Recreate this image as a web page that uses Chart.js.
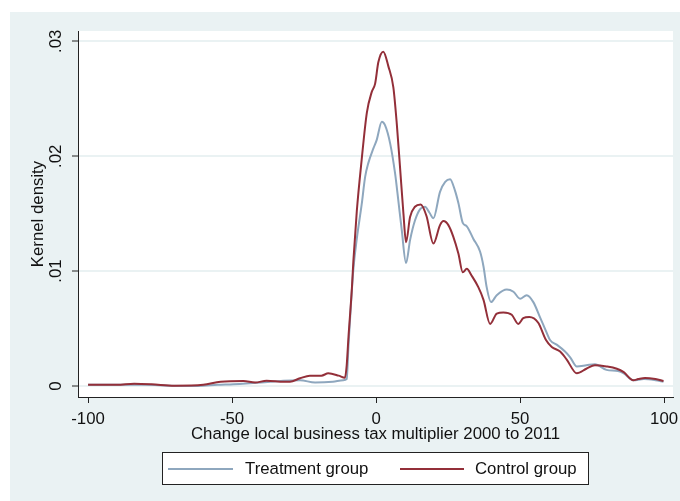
<!DOCTYPE html>
<html>

<head>
    <title>Kernel density: treatment vs control</title>
    <script src="https://cdn.jsdelivr.net/npm/chart.js@4.4.2/dist/chart.umd.min.js"></script>
    <style>
        html, body {
            margin: 0;
            background: #ffffff;
        }
        #chart-container {
            width: 680px;
            height: 501px;
        }
    </style>
</head>

<body>
    <div id="chart-container">
        <canvas id="densityChart" width="680" height="501"></canvas>
    </div>
    <script>
        // Values
        const treatmentX = [-100, -90, -80, -72, -62, -55, -49.5, -40, -32.2, -26.4, -21.2, -15, -11.4, -10.2, -9.6, -7.9,
            -6.7, -5, -3.8, -2.7, -0.9, 0.2, 2, 3.1, 4.9, 6.6, 7.7, 8.9, 10.4, 11.8, 13.5, 15.3, 17, 18.5, 19.9,
            22.2, 24, 25.7, 27.4, 28.6, 30.1, 31.5, 33.8, 36.1, 37.3, 38.4, 39.9, 41.9, 45.4, 47.7, 50, 52.3, 54.6,
            56.9, 59.3, 60.4, 62.7, 65.6, 67.4, 69.7, 73, 76, 80, 84, 86, 89.3, 93, 97, 99.8];
        const treatmentY = [0.0001, 0.0001, 0.0001, 0.00003, 0, 0.0001, 0.00015, 0.0003, 0.00046, 0.0005, 0.0003, 0.00037,
            0.0005, 0.0006, 0.0034, 0.0101, 0.0128, 0.0158, 0.0182, 0.0194, 0.0207, 0.0214, 0.023, 0.0227, 0.0211,
            0.0185, 0.0162, 0.0136, 0.0107, 0.0127, 0.0144, 0.0154, 0.0156, 0.0151, 0.0146, 0.0169, 0.01777, 0.018,
            0.017, 0.0159, 0.0142, 0.0139, 0.0128, 0.0117, 0.0104, 0.0086, 0.0073, 0.0079, 0.0084, 0.0082, 0.0076,
            0.0079, 0.0073, 0.006, 0.0046, 0.004, 0.0036, 0.003, 0.0025, 0.0017, 0.0018, 0.0019, 0.0014, 0.0013,
            0.0011, 0.0005, 0.0006, 0.0005, 0.00037];

        const controlX = [-100, -90, -84, -78, -70, -60, -54, -46, -42, -38, -32, -29.9, -26.4, -23, -19, -16.6, -13,
            -10.8, -10.2, -9.6, -8.4, -7.9, -6.7, -5, -3.2, -1.5, -0.35, 0.8, 2.5, 4.3, 6, 7.2, 8.3, 9.5, 10.4, 11.8,
            13.5, 15.5, 17.5, 19.9, 22.2, 23.4, 25.1, 26.8, 28.6, 30.1, 31.5, 33.2, 35.5, 37.3, 39.6, 41.9, 44.2,
            47.1, 49.4, 51.1, 53.2, 56.3, 59, 61, 63.9, 66.2, 69.7, 73, 76, 80, 83.6, 86, 89.3, 91, 93.4, 97, 99.8];
        const controlY = [0.0001, 0.0001, 0.0002, 0.00015, 0.00002, 0.0001, 0.00037, 0.00043, 0.0003, 0.00046, 0.00037,
            0.00037, 0.00067, 0.0009, 0.0009, 0.0011, 0.0009, 0.00072, 0.0018, 0.0042, 0.0085, 0.0108, 0.0152, 0.0197,
            0.0238, 0.0256, 0.0263, 0.0282, 0.0291, 0.0278, 0.026, 0.0228, 0.0191, 0.015, 0.0125, 0.0147, 0.0156,
            0.0158, 0.0148, 0.0124, 0.014, 0.01435, 0.014, 0.013, 0.0115, 0.0099, 0.0102, 0.0096, 0.0086, 0.0075,
            0.0054, 0.0063, 0.0064, 0.0062, 0.0054, 0.0059, 0.006, 0.0055, 0.004, 0.0034, 0.003, 0.0023, 0.0011,
            0.0015, 0.0018, 0.0017, 0.0015, 0.0012, 0.0005, 0.0006, 0.0007, 0.0006, 0.00043];

        const seriesLabels = ['Treatment group', 'Control group'];
        const xTicks = [-100, -50, 0, 50, 100];
        const yTicks = [0, 0.01, 0.02, 0.03];
        const yTickLabels = ['0', '.01', '.02', '.03'];
        const xTitle = 'Change local business tax multiplier 2000 to 2011';
        const yTitle = 'Kernel density';

        const blue = '#8ea7be';
        const red = '#932f39';
        const panelColor = '#eaf2f3';
        const textColor = '#111111';
        const fontFamily = '"Liberation Sans", Arial, sans-serif';
        const fontSize = 16.8;
        const font = fontSize + 'px ' + fontFamily;

        function toPoints(xs, ys) {
            return xs.map((x, i) => ({ x: x, y: ys[i] }));
        }

        // Stata-like backgrounds, rotated y labels, axis titles and boxed legend
        const stataLook = {
            id: 'stataLook',
            beforeDraw(chart) {
                const ctx = chart.ctx;
                const a = chart.chartArea;
                ctx.save();
                ctx.fillStyle = '#ffffff';
                ctx.fillRect(0, 0, chart.width, chart.height);
                ctx.fillStyle = panelColor;
                ctx.fillRect(10, 12, chart.width - 10, chart.height - 12);
                ctx.fillStyle = '#ffffff';
                ctx.fillRect(a.left, a.top, a.right - a.left, a.bottom - a.top);
                ctx.restore();
            },
            afterDraw(chart) {
                const ctx = chart.ctx;
                const a = chart.chartArea;
                const yScale = chart.scales.y;
                ctx.save();
                ctx.font = font;
                ctx.fillStyle = textColor;

                // y tick labels, rotated
                ctx.textAlign = 'center';
                ctx.textBaseline = 'middle';
                yTicks.forEach((v, i) => {
                    ctx.save();
                    ctx.translate(a.left - 22, yScale.getPixelForValue(v));
                    ctx.rotate(-Math.PI / 2);
                    ctx.fillText(yTickLabels[i], 0, 0);
                    ctx.restore();
                });

                // y title
                ctx.save();
                ctx.translate(a.left - 40, (a.top + a.bottom) / 2);
                ctx.rotate(-Math.PI / 2);
                ctx.fillText(yTitle, 0, 0);
                ctx.restore();

                // x title
                ctx.fillText(xTitle, (a.left + a.right) / 2, a.bottom + 37);

                // legend
                const lx = 162, ly = 452, lw = 426, lh = 32;
                ctx.fillStyle = '#ffffff';
                ctx.fillRect(lx, ly, lw, lh);
                ctx.strokeStyle = '#222222';
                ctx.lineWidth = 1;
                ctx.strokeRect(lx + 0.5, ly + 0.5, lw, lh);
                const items = [
                    { label: seriesLabels[0], color: blue, x0: 168, x1: 233, tx: 245 },
                    { label: seriesLabels[1], color: red, x0: 400, x1: 464, tx: 475 }
                ];
                items.forEach(it => {
                    ctx.strokeStyle = it.color;
                    ctx.lineWidth = 2;
                    ctx.beginPath();
                    ctx.moveTo(it.x0, ly + 17);
                    ctx.lineTo(it.x1, ly + 17);
                    ctx.stroke();
                    ctx.fillStyle = textColor;
                    ctx.textAlign = 'left';
                    ctx.fillText(it.label, it.tx, ly + 17);
                });
                ctx.restore();
            }
        };

        const ctx = document.getElementById('densityChart').getContext('2d');
        new Chart(ctx, {
            type: 'line',
            data: {
                datasets: [
                    {
                        label: seriesLabels[0],
                        data: toPoints(treatmentX, treatmentY),
                        borderColor: blue,
                        borderWidth: 2,
                        pointRadius: 0,
                        cubicInterpolationMode: 'monotone',
                        order: 1
                    },
                    {
                        label: seriesLabels[1],
                        data: toPoints(controlX, controlY),
                        borderColor: red,
                        borderWidth: 2,
                        pointRadius: 0,
                        cubicInterpolationMode: 'monotone',
                        order: 0
                    }
                ]
            },
            options: {
                responsive: false,
                animation: false,
                devicePixelRatio: 1,
                layout: {
                    padding: { left: 10, right: 7, top: 31, bottom: 0 }
                },
                scales: {
                    x: {
                        type: 'linear',
                        min: -103.5,
                        max: 103.1,
                        afterBuildTicks: scale => {
                            scale.ticks = xTicks.map(v => ({ value: v }));
                        },
                        afterFit: scale => {
                            scale.height = 104;
                            scale.paddingLeft = 0;
                            scale.paddingRight = 0;
                        },
                        grid: {
                            color: 'rgba(0,0,0,0)',
                            drawTicks: true,
                            tickLength: 6,
                            tickColor: '#222222',
                            tickWidth: 1
                        },
                        border: { color: '#222222', width: 1 },
                        ticks: {
                            color: textColor,
                            font: { family: fontFamily, size: fontSize },
                            padding: 6,
                            maxRotation: 0,
                            callback: v => String(v)
                        }
                    },
                    y: {
                        type: 'linear',
                        min: -0.00096,
                        max: 0.0309,
                        afterBuildTicks: scale => {
                            scale.ticks = yTicks.map(v => ({ value: v }));
                        },
                        afterFit: scale => {
                            scale.width = 68;
                            scale.paddingTop = 0;
                            scale.paddingBottom = 0;
                        },
                        grid: {
                            color: panelColor,
                            lineWidth: 2,
                            drawTicks: true,
                            tickLength: 6,
                            tickColor: '#222222',
                            tickWidth: 1
                        },
                        border: { color: '#222222', width: 1 },
                        ticks: { display: false }
                    }
                },
                plugins: {
                    legend: { display: false },
                    tooltip: { enabled: false }
                }
            },
            plugins: [stataLook]
        });
    </script>
</body>

</html>
